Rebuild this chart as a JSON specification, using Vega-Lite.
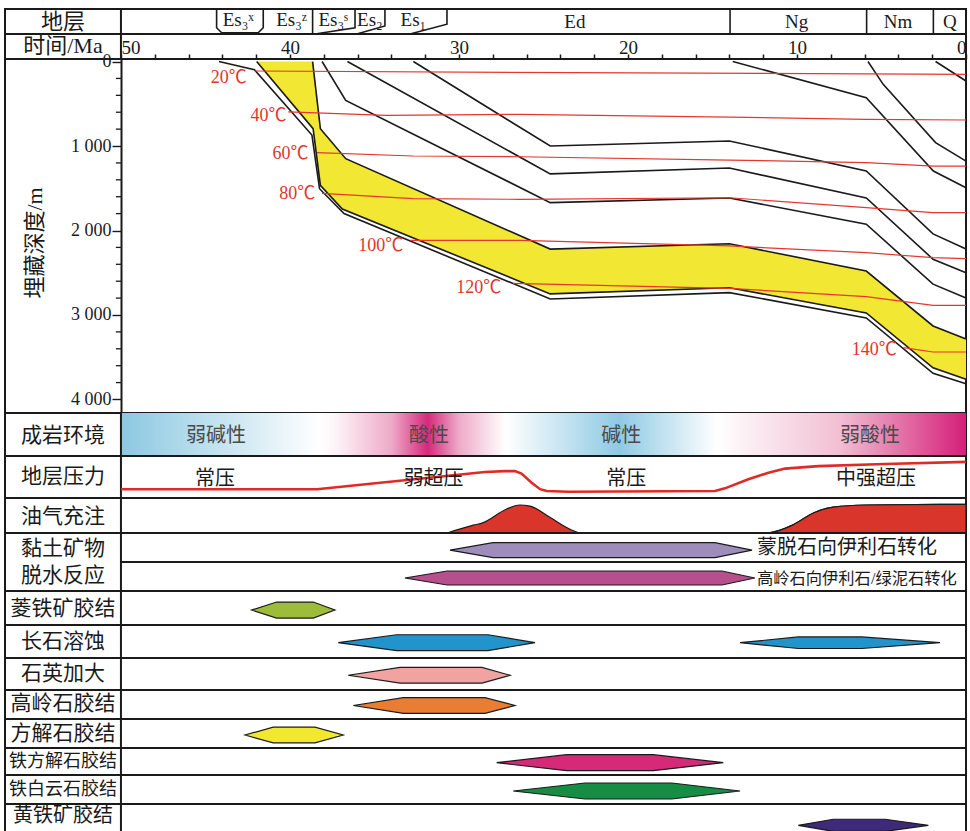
{
"$schema": "https://vega.github.io/schema/vega-lite/v6.json",
"background": "white",
"padding": {"left": 3, "top": 4, "right": 4, "bottom": 0},
"spacing": 0,
"bounds": "flush",
"config": {
  "view": {"stroke": "#1a1a1a", "strokeWidth": 2},
  "font": "Liberation Serif, Noto Sans CJK SC",
  "text": {"font": "Liberation Serif, Noto Sans CJK SC", "baseline": "middle", "align": "center", "color": "#1a1a1a"}
},
"vconcat": [
{
  "width": 961, "height": 50,
  "layer": [
    {"data": {"values": [{"t": 50}]}, "mark": {"type": "rule", "color": "#1a1a1a", "strokeWidth": 2},
     "encoding": {"x": {"field": "t", "type": "quantitative", "scale": {"domain": [56.86, 0], "nice": false, "zero": false}, "axis": null}}},
    {"data": {"values": [{"v": 1}]}, "mark": {"type": "rule", "color": "#1a1a1a", "strokeWidth": 2},
     "encoding": {"y": {"field": "v", "type": "quantitative", "scale": {"domain": [0, 2], "nice": false, "zero": false}, "axis": null}}},
    {"data": {"values": [
      {"seg": "a", "i": 1, "t": 44.34, "v": 2}, {"seg": "a", "i": 2, "t": 44.34, "v": 1.25}, {"seg": "a", "i": 3, "t": 44.04, "v": 1.05}, {"seg": "a", "i": 4, "t": 41.88, "v": 1.05}, {"seg": "a", "i": 5, "t": 41.58, "v": 1.25}, {"seg": "a", "i": 6, "t": 41.58, "v": 2},
      {"seg": "b", "i": 1, "t": 38.66, "v": 1}, {"seg": "b", "i": 2, "t": 38.66, "v": 2},
      {"seg": "c", "i": 1, "t": 38.52, "v": 1}, {"seg": "c", "i": 2, "t": 36.15, "v": 1.25}, {"seg": "c", "i": 3, "t": 36.15, "v": 2},
      {"seg": "d", "i": 1, "t": 36.05, "v": 1}, {"seg": "d", "i": 2, "t": 34.38, "v": 1.32}, {"seg": "d", "i": 3, "t": 34.38, "v": 2},
      {"seg": "e", "i": 1, "t": 32.9, "v": 1}, {"seg": "e", "i": 2, "t": 30.71, "v": 1.39}, {"seg": "e", "i": 3, "t": 30.71, "v": 2},
      {"seg": "f", "i": 1, "t": 13.96, "v": 1}, {"seg": "f", "i": 2, "t": 13.96, "v": 2},
      {"seg": "g", "i": 1, "t": 5.88, "v": 1}, {"seg": "g", "i": 2, "t": 5.88, "v": 2},
      {"seg": "h", "i": 1, "t": 1.93, "v": 1}, {"seg": "h", "i": 2, "t": 1.93, "v": 2}
     ]},
     "mark": {"type": "line", "color": "#1a1a1a", "strokeWidth": 1.6},
     "encoding": {
       "x": {"field": "t", "type": "quantitative", "scale": {"domain": [56.86, 0], "nice": false, "zero": false}, "axis": null},
       "y": {"field": "v", "type": "quantitative", "scale": {"domain": [0, 2], "nice": false, "zero": false}, "axis": null},
       "detail": {"field": "seg"}, "order": {"field": "i"}}},
    {"data": {"values": [
      {"t": 43.06, "v": 1.56, "s": "Es₃ˣ"}, {"t": 39.9, "v": 1.56, "s": "Es₃ᶻ"}, {"t": 37.44, "v": 1.56, "s": "Es₃ˢ"},
      {"t": 35.27, "v": 1.56, "s": "Es₂"}, {"t": 32.7, "v": 1.56, "s": "Es₁"}, {"t": 23.14, "v": 1.5, "s": "Ed"},
      {"t": 10.02, "v": 1.5, "s": "Ng"}, {"t": 4.02, "v": 1.5, "s": "Nm"}, {"t": 0.95, "v": 1.5, "s": "Q"}
     ]},
     "mark": {"type": "text", "fontSize": 19},
     "encoding": {
       "x": {"field": "t", "type": "quantitative", "scale": {"domain": [56.86, 0], "nice": false, "zero": false}, "axis": null},
       "y": {"field": "v", "type": "quantitative", "scale": {"domain": [0, 2], "nice": false, "zero": false}, "axis": null},
       "text": {"field": "s"}}},
    {"data": {"values": [{"t": 53.43, "v": 1.5, "s": "地层"}, {"t": 53.43, "v": 0.52, "s": "时间/Ma"}]},
     "mark": {"type": "text", "fontSize": 22},
     "encoding": {
       "x": {"field": "t", "type": "quantitative", "scale": {"domain": [56.86, 0], "nice": false, "zero": false}, "axis": null},
       "y": {"field": "v", "type": "quantitative", "scale": {"domain": [0, 2], "nice": false, "zero": false}, "axis": null},
       "text": {"field": "s"}}}
  ]
},
{
  "width": 961, "height": 354,
  "layer": [
    {"data": {"values": [
      {"t": 41.97, "d": 0, "d2": 0}, {"t": 38.66, "d": 0, "d2": 788}, {"t": 38.63, "d": 52, "d2": 795},
      {"t": 38.2, "d": 795, "d2": 1465}, {"t": 36.9, "d": 1102, "d2": 1745}, {"t": 36.7, "d": 1150, "d2": 1761},
      {"t": 24.6, "d": 2220, "d2": 2750}, {"t": 14.0, "d": 2156, "d2": 2677}, {"t": 5.9, "d": 2480, "d2": 2976},
      {"t": 1.95, "d": 3130, "d2": 3625}, {"t": 0, "d": 3285, "d2": 3760}
     ]},
     "mark": {"type": "area", "color": "#f2e733", "opacity": 1},
     "encoding": {
       "x": {"field": "t", "type": "quantitative", "scale": {"domain": [56.86, 0], "nice": false, "zero": false},
         "axis": {"orient": "top", "title": null, "values": [50,48,46,44,42,40,38,36,34,32,30,28,26,24,22,20,18,16,14,12,10,8,6,4,2,0],
           "tickCount": 40, "tickSize": 5, "tickWidth": 1.5, "tickColor": "#1a1a1a", "domain": false, "grid": false,
           "labelExpr": "datum.value % 10 === 0 ? format(datum.value, 'd') : ''",
           "labelFont": "Liberation Serif", "labelFontSize": 19, "labelColor": "#1a1a1a", "labelPadding": 1,
           "labelBaseline": "alphabetic", "labelFlush": false, "labelOverlap": false,
           "labelAlign": {"expr": "datum.value === 50 ? 'left' : (datum.value === 0 ? 'right' : 'center')"}}},
       "y": {"field": "d", "type": "quantitative", "scale": {"domain": [-30, 4160], "reverse": true, "nice": false, "zero": false},
         "axis": {"orient": "left", "offset": -116, "title": null, "values": [0, 1000, 2000, 3000, 4000], "tickCount": 10,
           "tickSize": 9, "tickWidth": 1.4, "tickColor": "#1a1a1a", "domain": true, "domainColor": "#1a1a1a", "domainWidth": 2, "grid": false,
           "labelExpr": "datum.value === 0 ? '0' : replace(format(datum.value, ','), ',', ' ')",
           "labelFont": "Liberation Serif", "labelFontSize": 18, "labelColor": "#1a1a1a", "labelPadding": 1,
           "labelBaseline": "middle", "labelOverlap": false, "labelFlush": false}},
       "y2": {"field": "d2"}}},
    {"data": {"values": [
      {"d": 200}, {"d": 400}, {"d": 600}, {"d": 800}, {"d": 1200}, {"d": 1400}, {"d": 1600}, {"d": 1800},
      {"d": 2200}, {"d": 2400}, {"d": 2600}, {"d": 2800}, {"d": 3200}, {"d": 3400}, {"d": 3600}, {"d": 3800}]},
     "mark": {"type": "rule", "color": "#1a1a1a", "strokeWidth": 1.3},
     "encoding": {
       "x": {"datum": 50.3, "type": "quantitative"},
       "x2": {"datum": 50},
       "y": {"field": "d", "type": "quantitative"}}},
    {"data": {"values": [
      {"h": "G", "i": 1, "t": 1.8, "d": 0}, {"h": "G", "i": 2, "t": 0, "d": 230},
      {"h": "F", "i": 1, "t": 5.8, "d": 0}, {"h": "F", "i": 2, "t": 4.9, "d": 270}, {"h": "F", "i": 3, "t": 1.8, "d": 960}, {"h": "F", "i": 4, "t": 0, "d": 1178},
      {"h": "E", "i": 1, "t": 13.8, "d": 0}, {"h": "E", "i": 2, "t": 5.9, "d": 428}, {"h": "E", "i": 3, "t": 1.93, "d": 1296}, {"h": "E", "i": 4, "t": 0, "d": 1493},
      {"h": "D", "i": 1, "t": 32.7, "d": 0}, {"h": "D", "i": 2, "t": 24.6, "d": 1000}, {"h": "D", "i": 3, "t": 14.0, "d": 940}, {"h": "D", "i": 4, "t": 5.9, "d": 1295}, {"h": "D", "i": 5, "t": 1.95, "d": 2040}, {"h": "D", "i": 6, "t": 0, "d": 2220},
      {"h": "C", "i": 1, "t": 36.6, "d": 0}, {"h": "C", "i": 2, "t": 24.6, "d": 1330}, {"h": "C", "i": 3, "t": 14.0, "d": 1260}, {"h": "C", "i": 4, "t": 5.9, "d": 1615}, {"h": "C", "i": 5, "t": 1.95, "d": 2340}, {"h": "C", "i": 6, "t": 0, "d": 2500},
      {"h": "B", "i": 1, "t": 38.1, "d": 0}, {"h": "B", "i": 2, "t": 36.7, "d": 460}, {"h": "B", "i": 3, "t": 24.6, "d": 1670}, {"h": "B", "i": 4, "t": 14.0, "d": 1615}, {"h": "B", "i": 5, "t": 5.9, "d": 1925}, {"h": "B", "i": 6, "t": 1.95, "d": 2635}, {"h": "B", "i": 7, "t": 0, "d": 2800},
      {"h": "T", "i": 1, "t": 38.66, "d": 0}, {"h": "T", "i": 2, "t": 38.2, "d": 795}, {"h": "T", "i": 3, "t": 36.7, "d": 1150}, {"h": "T", "i": 4, "t": 24.6, "d": 2220}, {"h": "T", "i": 5, "t": 14.0, "d": 2156}, {"h": "T", "i": 6, "t": 5.9, "d": 2480}, {"h": "T", "i": 7, "t": 1.95, "d": 3130}, {"h": "T", "i": 8, "t": 0, "d": 3285},
      {"h": "U", "i": 1, "t": 41.97, "d": 0}, {"h": "U", "i": 2, "t": 38.63, "d": 795}, {"h": "U", "i": 3, "t": 38.2, "d": 1465}, {"h": "U", "i": 4, "t": 36.9, "d": 1745}, {"h": "U", "i": 5, "t": 24.6, "d": 2750}, {"h": "U", "i": 6, "t": 14.0, "d": 2677}, {"h": "U", "i": 7, "t": 5.9, "d": 2976}, {"h": "U", "i": 8, "t": 1.95, "d": 3625}, {"h": "U", "i": 9, "t": 0, "d": 3760},
      {"h": "V", "i": 1, "t": 44.2, "d": 0}, {"h": "V", "i": 2, "t": 42.1, "d": 97}, {"h": "V", "i": 3, "t": 38.7, "d": 870}, {"h": "V", "i": 4, "t": 38.25, "d": 1505}, {"h": "V", "i": 5, "t": 36.8, "d": 1800}, {"h": "V", "i": 6, "t": 24.6, "d": 2810}, {"h": "V", "i": 7, "t": 14.0, "d": 2735}, {"h": "V", "i": 8, "t": 5.9, "d": 3035}, {"h": "V", "i": 9, "t": 1.95, "d": 3690}, {"h": "V", "i": 10, "t": 0, "d": 3815}
     ]},
     "mark": {"type": "line", "color": "#1a1a1a", "strokeWidth": 1.6},
     "encoding": {
       "x": {"field": "t", "type": "quantitative"},
       "y": {"field": "d", "type": "quantitative"},
       "detail": {"field": "h"}, "order": {"field": "i"}}},
    {"data": {"values": [
      {"T": 20, "i": 1, "t": 42.1, "d": 112}, {"T": 20, "i": 2, "t": 23.4, "d": 132}, {"T": 20, "i": 3, "t": 0, "d": 151},
      {"T": 40, "i": 1, "t": 40.1, "d": 597}, {"T": 40, "i": 2, "t": 34.3, "d": 637}, {"T": 40, "i": 3, "t": 26.4, "d": 625}, {"T": 40, "i": 4, "t": 14.0, "d": 657}, {"T": 40, "i": 5, "t": 5.9, "d": 684}, {"T": 40, "i": 6, "t": 0, "d": 692},
      {"T": 60, "i": 1, "t": 38.4, "d": 1079}, {"T": 60, "i": 2, "t": 32.7, "d": 1118}, {"T": 60, "i": 3, "t": 26.4, "d": 1127}, {"T": 60, "i": 4, "t": 14.0, "d": 1166}, {"T": 60, "i": 5, "t": 5.9, "d": 1197}, {"T": 60, "i": 6, "t": 1.95, "d": 1237}, {"T": 60, "i": 7, "t": 0, "d": 1237},
      {"T": 80, "i": 1, "t": 38.1, "d": 1560}, {"T": 80, "i": 2, "t": 32.7, "d": 1623}, {"T": 80, "i": 3, "t": 26.4, "d": 1631}, {"T": 80, "i": 4, "t": 14.0, "d": 1612}, {"T": 80, "i": 5, "t": 5.9, "d": 1730}, {"T": 80, "i": 6, "t": 1.95, "d": 1789}, {"T": 80, "i": 7, "t": 0, "d": 1789},
      {"T": 100, "i": 1, "t": 32.9, "d": 2116}, {"T": 100, "i": 2, "t": 26.4, "d": 2116}, {"T": 100, "i": 3, "t": 14.0, "d": 2183}, {"T": 100, "i": 4, "t": 5.9, "d": 2262}, {"T": 100, "i": 5, "t": 1.95, "d": 2322}, {"T": 100, "i": 6, "t": 0, "d": 2333},
      {"T": 120, "i": 1, "t": 26.8, "d": 2625}, {"T": 120, "i": 2, "t": 14.0, "d": 2684}, {"T": 120, "i": 3, "t": 5.9, "d": 2783}, {"T": 120, "i": 4, "t": 1.95, "d": 2885}, {"T": 120, "i": 5, "t": 0, "d": 2885},
      {"T": 140, "i": 1, "t": 3.7, "d": 3387}, {"T": 140, "i": 2, "t": 1.95, "d": 3438}, {"T": 140, "i": 3, "t": 0, "d": 3438}
     ]},
     "mark": {"type": "line", "color": "#e6372f", "strokeWidth": 1.2},
     "encoding": {
       "x": {"field": "t", "type": "quantitative"},
       "y": {"field": "d", "type": "quantitative"},
       "detail": {"field": "T"}, "order": {"field": "i"}}},
    {"data": {"values": [
      {"t": 42.55, "d": 190, "s": "20℃"}, {"t": 40.2, "d": 640, "s": "40℃"}, {"t": 38.9, "d": 1089, "s": "60℃"},
      {"t": 38.5, "d": 1562, "s": "80℃"}, {"t": 33.3, "d": 2189, "s": "100℃"}, {"t": 27.5, "d": 2675, "s": "120℃"}, {"t": 4.1, "d": 3420, "s": "140℃"}
     ]},
     "mark": {"type": "text", "fontSize": 18, "align": "right", "color": "#e0352d"},
     "encoding": {
       "x": {"field": "t", "type": "quantitative"},
       "y": {"field": "d", "type": "quantitative"},
       "text": {"field": "s"}}},
    {"data": {"values": [{"t": 55.08, "d": 2148, "s": "埋藏深度/m"}]},
     "mark": {"type": "text", "fontSize": 22, "angle": 270},
     "encoding": {
       "x": {"field": "t", "type": "quantitative"},
       "y": {"field": "d", "type": "quantitative"},
       "text": {"field": "s"}}}
  ]
},
{
  "width": 961, "height": 43,
  "layer": [
    {"data": {"values": [{"t": 50, "t2": 0}]},
     "mark": {"type": "rect", "color": {"gradient": "linear", "x1": 0, "x2": 1, "y1": 0, "y2": 0, "stops": [
       {"offset": 0, "color": "#8cc8e2"}, {"offset": 0.235, "color": "#ffffff"}, {"offset": 0.255, "color": "#fdf3f7"},
       {"offset": 0.32, "color": "#eeaac8"}, {"offset": 0.363, "color": "#d42a7c"}, {"offset": 0.40, "color": "#eeaac8"},
       {"offset": 0.455, "color": "#ffffff"}, {"offset": 0.59, "color": "#8ecae3"}, {"offset": 0.705, "color": "#ffffff"},
       {"offset": 0.85, "color": "#f2bfd3"}, {"offset": 1, "color": "#d42079"}]}},
     "encoding": {
       "x": {"field": "t", "type": "quantitative", "scale": {"domain": [56.86, 0], "nice": false, "zero": false}, "axis": null},
       "x2": {"field": "t2"}}},
    {"data": {"values": [{"t": 50}]}, "mark": {"type": "rule", "color": "#1a1a1a", "strokeWidth": 2},
     "encoding": {"x": {"field": "t", "type": "quantitative", "scale": {"domain": [56.86, 0], "nice": false, "zero": false}, "axis": null}}},
    {"data": {"values": [
      {"t": 44.38, "v": 0.465, "s": "弱碱性"}, {"t": 31.78, "v": 0.465, "s": "酸性"}, {"t": 20.4, "v": 0.465, "s": "碱性"}, {"t": 5.68, "v": 0.465, "s": "弱酸性"}]},
     "mark": {"type": "text", "fontSize": 20, "color": "#4a4a4a"},
     "encoding": {
       "x": {"field": "t", "type": "quantitative", "scale": {"domain": [56.86, 0], "nice": false, "zero": false}, "axis": null},
       "y": {"field": "v", "type": "quantitative", "scale": {"domain": [0, 1], "nice": false, "zero": false}, "axis": null},
       "text": {"field": "s"}}},
    {"data": {"values": [{"t": 53.43, "v": 0.465, "s": "成岩环境"}]},
     "mark": {"type": "text", "fontSize": 21},
     "encoding": {
       "x": {"field": "t", "type": "quantitative", "scale": {"domain": [56.86, 0], "nice": false, "zero": false}, "axis": null},
       "y": {"field": "v", "type": "quantitative", "scale": {"domain": [0, 1], "nice": false, "zero": false}, "axis": null},
       "text": {"field": "s"}}}
  ]
},
{
  "width": 961, "height": 42,
  "layer": [
    {"data": {"values": [{"t": 50}]}, "mark": {"type": "rule", "color": "#1a1a1a", "strokeWidth": 2},
     "encoding": {"x": {"field": "t", "type": "quantitative", "scale": {"domain": [56.86, 0], "nice": false, "zero": false}, "axis": null}}},
    {"data": {"values": [
      {"t": 50, "v": 0.207}, {"t": 38.4, "v": 0.207}, {"t": 28.46, "v": 0.62}, {"t": 27.28, "v": 0.64}, {"t": 26.69, "v": 0.64},
      {"t": 26.3, "v": 0.58}, {"t": 25.7, "v": 0.365}, {"t": 25.2, "v": 0.21}, {"t": 24.81, "v": 0.167}, {"t": 23.53, "v": 0.15},
      {"t": 14.85, "v": 0.167}, {"t": 14.26, "v": 0.23}, {"t": 12.88, "v": 0.445}, {"t": 11.69, "v": 0.6}, {"t": 10.71, "v": 0.7},
      {"t": 8.74, "v": 0.76}, {"t": 4.79, "v": 0.81}, {"t": 0, "v": 0.86}]},
     "mark": {"type": "line", "color": "#e02a26", "strokeWidth": 2.6},
     "encoding": {
       "x": {"field": "t", "type": "quantitative", "scale": {"domain": [56.86, 0], "nice": false, "zero": false}, "axis": null},
       "y": {"field": "v", "type": "quantitative", "scale": {"domain": [0, 1], "nice": false, "zero": false}, "axis": null}}},
    {"data": {"values": [
      {"t": 44.44, "v": 0.452, "s": "常压"}, {"t": 31.5, "v": 0.452, "s": "弱超压"}, {"t": 20.1, "v": 0.452, "s": "常压"}, {"t": 5.33, "v": 0.452, "s": "中强超压"}]},
     "mark": {"type": "text", "fontSize": 20},
     "encoding": {
       "x": {"field": "t", "type": "quantitative", "scale": {"domain": [56.86, 0], "nice": false, "zero": false}, "axis": null},
       "y": {"field": "v", "type": "quantitative", "scale": {"domain": [0, 1], "nice": false, "zero": false}, "axis": null},
       "text": {"field": "s"}}},
    {"data": {"values": [{"t": 53.43, "v": 0.5, "s": "地层压力"}]},
     "mark": {"type": "text", "fontSize": 21},
     "encoding": {
       "x": {"field": "t", "type": "quantitative", "scale": {"domain": [56.86, 0], "nice": false, "zero": false}, "axis": null},
       "y": {"field": "v", "type": "quantitative", "scale": {"domain": [0, 1], "nice": false, "zero": false}, "axis": null},
       "text": {"field": "s"}}}
  ]
},
{
  "width": 961, "height": 35,
  "layer": [
    {"data": {"values": [
      {"g": "a", "t": 30.7, "v": 0}, {"g": "a", "t": 29.1, "v": 0.23}, {"g": "a", "t": 28.6, "v": 0.29}, {"g": "a", "t": 27.2, "v": 0.68},
      {"g": "a", "t": 26.4, "v": 0.8}, {"g": "a", "t": 25.8, "v": 0.77}, {"g": "a", "t": 24.6, "v": 0.44}, {"g": "a", "t": 23.4, "v": 0.1}, {"g": "a", "t": 22.8, "v": 0},
      {"g": "b", "t": 11.8, "v": 0}, {"g": "b", "t": 10.2, "v": 0.24}, {"g": "b", "t": 9.0, "v": 0.58}, {"g": "b", "t": 7.85, "v": 0.74},
      {"g": "b", "t": 5.9, "v": 0.8}, {"g": "b", "t": 1.5, "v": 0.82}, {"g": "b", "t": 0, "v": 0.82}]},
     "mark": {"type": "area", "color": "#d9352b", "stroke": "#1a1a1a", "strokeWidth": 1.2, "interpolate": "monotone", "opacity": 1},
     "encoding": {
       "x": {"field": "t", "type": "quantitative", "scale": {"domain": [56.86, 0], "nice": false, "zero": false}, "axis": null},
       "y": {"field": "v", "type": "quantitative", "scale": {"domain": [0, 1], "nice": false, "zero": false}, "axis": null},
       "detail": {"field": "g"}}},
    {"data": {"values": [{"t": 50}]}, "mark": {"type": "rule", "color": "#1a1a1a", "strokeWidth": 2},
     "encoding": {"x": {"field": "t", "type": "quantitative", "scale": {"domain": [56.86, 0], "nice": false, "zero": false}, "axis": null}}},
    {"data": {"values": [{"t": 53.43, "v": 0.457, "s": "油气充注"}]},
     "mark": {"type": "text", "fontSize": 21},
     "encoding": {
       "x": {"field": "t", "type": "quantitative", "scale": {"domain": [56.86, 0], "nice": false, "zero": false}, "axis": null},
       "y": {"field": "v", "type": "quantitative", "scale": {"domain": [0, 1], "nice": false, "zero": false}, "axis": null},
       "text": {"field": "s"}}}
  ]
},
{
  "width": 961, "height": 58,
  "layer": [
    {"data": {"values": [{"t": 50, "t2": 0, "v": 1}]}, "mark": {"type": "rule", "color": "#1a1a1a", "strokeWidth": 2},
     "encoding": {
       "x": {"field": "t", "type": "quantitative", "scale": {"domain": [56.86, 0], "nice": false, "zero": false}, "axis": null},
       "x2": {"field": "t2"},
       "y": {"field": "v", "type": "quantitative", "scale": {"domain": [0, 2], "nice": false, "zero": false}, "axis": null}}},
    {"data": {"values": [{"t": 50}]}, "mark": {"type": "rule", "color": "#1a1a1a", "strokeWidth": 2},
     "encoding": {"x": {"field": "t", "type": "quantitative", "scale": {"domain": [56.86, 0], "nice": false, "zero": false}, "axis": null}}},
    {"data": {"values": [
      {"b": "p", "col": "#9e8dbb", "t": 30.53, "lo": 1.407, "hi": 1.407}, {"b": "p", "col": "#9e8dbb", "t": 27.99, "lo": 1.148, "hi": 1.666},
      {"b": "p", "col": "#9e8dbb", "t": 14.85, "lo": 1.148, "hi": 1.666}, {"b": "p", "col": "#9e8dbb", "t": 12.66, "lo": 1.407, "hi": 1.407},
      {"b": "m", "col": "#b64f8b", "t": 33.2, "lo": 0.448, "hi": 0.448}, {"b": "m", "col": "#b64f8b", "t": 30.7, "lo": 0.207, "hi": 0.69},
      {"b": "m", "col": "#b64f8b", "t": 14.44, "lo": 0.207, "hi": 0.69}, {"b": "m", "col": "#b64f8b", "t": 12.49, "lo": 0.448, "hi": 0.448}]},
     "mark": {"type": "area", "stroke": "#1a1a1a", "strokeWidth": 1.2, "opacity": 1},
     "encoding": {
       "x": {"field": "t", "type": "quantitative", "scale": {"domain": [56.86, 0], "nice": false, "zero": false}, "axis": null},
       "y": {"field": "lo", "type": "quantitative", "scale": {"domain": [0, 2], "nice": false, "zero": false}, "axis": null},
       "y2": {"field": "hi"},
       "detail": {"field": "b"},
       "color": {"field": "col", "type": "nominal", "scale": null}}},
    {"data": {"values": [{"t": 12.37, "v": 1.48, "s": "蒙脱石向伊利石转化"}]},
     "mark": {"type": "text", "fontSize": 20, "align": "left"},
     "encoding": {
       "x": {"field": "t", "type": "quantitative", "scale": {"domain": [56.86, 0], "nice": false, "zero": false}, "axis": null},
       "y": {"field": "v", "type": "quantitative", "scale": {"domain": [0, 2], "nice": false, "zero": false}, "axis": null},
       "text": {"field": "s"}}},
    {"data": {"values": [{"t": 12.37, "v": 0.41, "s": "高岭石向伊利石/绿泥石转化"}]},
     "mark": {"type": "text", "fontSize": 16.3, "align": "left"},
     "encoding": {
       "x": {"field": "t", "type": "quantitative", "scale": {"domain": [56.86, 0], "nice": false, "zero": false}, "axis": null},
       "y": {"field": "v", "type": "quantitative", "scale": {"domain": [0, 2], "nice": false, "zero": false}, "axis": null},
       "text": {"field": "s"}}},
    {"data": {"values": [{"t": 53.43, "v": 1.45, "s": "黏土矿物"}, {"t": 53.43, "v": 0.52, "s": "脱水反应"}]},
     "mark": {"type": "text", "fontSize": 21},
     "encoding": {
       "x": {"field": "t", "type": "quantitative", "scale": {"domain": [56.86, 0], "nice": false, "zero": false}, "axis": null},
       "y": {"field": "v", "type": "quantitative", "scale": {"domain": [0, 2], "nice": false, "zero": false}, "axis": null},
       "text": {"field": "s"}}}
  ]
},
{
  "width": 961, "height": 34,
  "layer": [
    {"data": {"values": [{"t": 50}]}, "mark": {"type": "rule", "color": "#1a1a1a", "strokeWidth": 2},
     "encoding": {"x": {"field": "t", "type": "quantitative", "scale": {"domain": [56.86, 0], "nice": false, "zero": false}, "axis": null}}},
    {"data": {"values": [
      {"b": "s", "col": "#9cbc3a", "t": 42.27, "lo": 0.44, "hi": 0.44}, {"b": "s", "col": "#9cbc3a", "t": 40.79, "lo": 0.205, "hi": 0.675},
      {"b": "s", "col": "#9cbc3a", "t": 38.62, "lo": 0.205, "hi": 0.675}, {"b": "s", "col": "#9cbc3a", "t": 37.34, "lo": 0.44, "hi": 0.44}]},
     "mark": {"type": "area", "stroke": "#1a1a1a", "strokeWidth": 1.2, "opacity": 1},
     "encoding": {
       "x": {"field": "t", "type": "quantitative", "scale": {"domain": [56.86, 0], "nice": false, "zero": false}, "axis": null},
       "y": {"field": "lo", "type": "quantitative", "scale": {"domain": [0, 1], "nice": false, "zero": false}, "axis": null},
       "y2": {"field": "hi"}, "detail": {"field": "b"},
       "color": {"field": "col", "type": "nominal", "scale": null}}},
    {"data": {"values": [{"t": 53.43, "v": 0.47, "s": "菱铁矿胶结"}]},
     "mark": {"type": "text", "fontSize": 21},
     "encoding": {
       "x": {"field": "t", "type": "quantitative", "scale": {"domain": [56.86, 0], "nice": false, "zero": false}, "axis": null},
       "y": {"field": "v", "type": "quantitative", "scale": {"domain": [0, 1], "nice": false, "zero": false}, "axis": null},
       "text": {"field": "s"}}}
  ]
},
{
  "width": 961, "height": 33,
  "layer": [
    {"data": {"values": [{"t": 50}]}, "mark": {"type": "rule", "color": "#1a1a1a", "strokeWidth": 2},
     "encoding": {"x": {"field": "t", "type": "quantitative", "scale": {"domain": [56.86, 0], "nice": false, "zero": false}, "axis": null}}},
    {"data": {"values": [
      {"b": "a", "col": "#2194cc", "t": 37.14, "lo": 0.464, "hi": 0.464}, {"b": "a", "col": "#2194cc", "t": 33.69, "lo": 0.224, "hi": 0.704},
      {"b": "a", "col": "#2194cc", "t": 28.28, "lo": 0.224, "hi": 0.704}, {"b": "a", "col": "#2194cc", "t": 25.5, "lo": 0.464, "hi": 0.464},
      {"b": "b", "col": "#2194cc", "t": 13.37, "lo": 0.464, "hi": 0.464}, {"b": "b", "col": "#2194cc", "t": 9.92, "lo": 0.288, "hi": 0.64},
      {"b": "b", "col": "#2194cc", "t": 6.17, "lo": 0.288, "hi": 0.64}, {"b": "b", "col": "#2194cc", "t": 1.54, "lo": 0.464, "hi": 0.464}]},
     "mark": {"type": "area", "stroke": "#1a1a1a", "strokeWidth": 1.2, "opacity": 1},
     "encoding": {
       "x": {"field": "t", "type": "quantitative", "scale": {"domain": [56.86, 0], "nice": false, "zero": false}, "axis": null},
       "y": {"field": "lo", "type": "quantitative", "scale": {"domain": [0, 1], "nice": false, "zero": false}, "axis": null},
       "y2": {"field": "hi"}, "detail": {"field": "b"},
       "color": {"field": "col", "type": "nominal", "scale": null}}},
    {"data": {"values": [{"t": 53.43, "v": 0.485, "s": "长石溶蚀"}]},
     "mark": {"type": "text", "fontSize": 21},
     "encoding": {
       "x": {"field": "t", "type": "quantitative", "scale": {"domain": [56.86, 0], "nice": false, "zero": false}, "axis": null},
       "y": {"field": "v", "type": "quantitative", "scale": {"domain": [0, 1], "nice": false, "zero": false}, "axis": null},
       "text": {"field": "s"}}}
  ]
},
{
  "width": 961, "height": 32,
  "layer": [
    {"data": {"values": [{"t": 50}]}, "mark": {"type": "rule", "color": "#1a1a1a", "strokeWidth": 2},
     "encoding": {"x": {"field": "t", "type": "quantitative", "scale": {"domain": [56.86, 0], "nice": false, "zero": false}, "axis": null}}},
    {"data": {"values": [
      {"b": "q", "col": "#f0a3a1", "t": 36.55, "lo": 0.46, "hi": 0.46}, {"b": "q", "col": "#f0a3a1", "t": 33.49, "lo": 0.216, "hi": 0.704},
      {"b": "q", "col": "#f0a3a1", "t": 28.64, "lo": 0.216, "hi": 0.704}, {"b": "q", "col": "#f0a3a1", "t": 26.98, "lo": 0.46, "hi": 0.46}]},
     "mark": {"type": "area", "stroke": "#1a1a1a", "strokeWidth": 1.2, "opacity": 1},
     "encoding": {
       "x": {"field": "t", "type": "quantitative", "scale": {"domain": [56.86, 0], "nice": false, "zero": false}, "axis": null},
       "y": {"field": "lo", "type": "quantitative", "scale": {"domain": [0, 1], "nice": false, "zero": false}, "axis": null},
       "y2": {"field": "hi"}, "detail": {"field": "b"},
       "color": {"field": "col", "type": "nominal", "scale": null}}},
    {"data": {"values": [{"t": 53.43, "v": 0.5, "s": "石英加大"}]},
     "mark": {"type": "text", "fontSize": 21},
     "encoding": {
       "x": {"field": "t", "type": "quantitative", "scale": {"domain": [56.86, 0], "nice": false, "zero": false}, "axis": null},
       "y": {"field": "v", "type": "quantitative", "scale": {"domain": [0, 1], "nice": false, "zero": false}, "axis": null},
       "text": {"field": "s"}}}
  ]
},
{
  "width": 961, "height": 29,
  "layer": [
    {"data": {"values": [{"t": 50}]}, "mark": {"type": "rule", "color": "#1a1a1a", "strokeWidth": 2},
     "encoding": {"x": {"field": "t", "type": "quantitative", "scale": {"domain": [56.86, 0], "nice": false, "zero": false}, "axis": null}}},
    {"data": {"values": [
      {"b": "k", "col": "#e87d33", "t": 36.25, "lo": 0.466, "hi": 0.466}, {"b": "k", "col": "#e87d33", "t": 33.29, "lo": 0.196, "hi": 0.736},
      {"b": "k", "col": "#e87d33", "t": 28.46, "lo": 0.196, "hi": 0.736}, {"b": "k", "col": "#e87d33", "t": 26.69, "lo": 0.466, "hi": 0.466}]},
     "mark": {"type": "area", "stroke": "#1a1a1a", "strokeWidth": 1.2, "opacity": 1},
     "encoding": {
       "x": {"field": "t", "type": "quantitative", "scale": {"domain": [56.86, 0], "nice": false, "zero": false}, "axis": null},
       "y": {"field": "lo", "type": "quantitative", "scale": {"domain": [0, 1], "nice": false, "zero": false}, "axis": null},
       "y2": {"field": "hi"}, "detail": {"field": "b"},
       "color": {"field": "col", "type": "nominal", "scale": null}}},
    {"data": {"values": [{"t": 53.43, "v": 0.517, "s": "高岭石胶结"}]},
     "mark": {"type": "text", "fontSize": 21},
     "encoding": {
       "x": {"field": "t", "type": "quantitative", "scale": {"domain": [56.86, 0], "nice": false, "zero": false}, "axis": null},
       "y": {"field": "v", "type": "quantitative", "scale": {"domain": [0, 1], "nice": false, "zero": false}, "axis": null},
       "text": {"field": "s"}}}
  ]
},
{
  "width": 961, "height": 29,
  "layer": [
    {"data": {"values": [{"t": 50}]}, "mark": {"type": "rule", "color": "#1a1a1a", "strokeWidth": 2},
     "encoding": {"x": {"field": "t", "type": "quantitative", "scale": {"domain": [56.86, 0], "nice": false, "zero": false}, "axis": null}}},
    {"data": {"values": [
      {"b": "c", "col": "#f2e830", "t": 42.66, "lo": 0.448, "hi": 0.448}, {"b": "c", "col": "#f2e830", "t": 40.99, "lo": 0.178, "hi": 0.718},
      {"b": "c", "col": "#f2e830", "t": 38.52, "lo": 0.178, "hi": 0.718}, {"b": "c", "col": "#f2e830", "t": 36.85, "lo": 0.448, "hi": 0.448}]},
     "mark": {"type": "area", "stroke": "#1a1a1a", "strokeWidth": 1.2, "opacity": 1},
     "encoding": {
       "x": {"field": "t", "type": "quantitative", "scale": {"domain": [56.86, 0], "nice": false, "zero": false}, "axis": null},
       "y": {"field": "lo", "type": "quantitative", "scale": {"domain": [0, 1], "nice": false, "zero": false}, "axis": null},
       "y2": {"field": "hi"}, "detail": {"field": "b"},
       "color": {"field": "col", "type": "nominal", "scale": null}}},
    {"data": {"values": [{"t": 53.43, "v": 0.483, "s": "方解石胶结"}]},
     "mark": {"type": "text", "fontSize": 21},
     "encoding": {
       "x": {"field": "t", "type": "quantitative", "scale": {"domain": [56.86, 0], "nice": false, "zero": false}, "axis": null},
       "y": {"field": "v", "type": "quantitative", "scale": {"domain": [0, 1], "nice": false, "zero": false}, "axis": null},
       "text": {"field": "s"}}}
  ]
},
{
  "width": 961, "height": 27,
  "layer": [
    {"data": {"values": [{"t": 50}]}, "mark": {"type": "rule", "color": "#1a1a1a", "strokeWidth": 2},
     "encoding": {"x": {"field": "t", "type": "quantitative", "scale": {"domain": [56.86, 0], "nice": false, "zero": false}, "axis": null}}},
    {"data": {"values": [
      {"b": "f", "col": "#d62a79", "t": 27.77, "lo": 0.456, "hi": 0.456}, {"b": "f", "col": "#d62a79", "t": 23.63, "lo": 0.16, "hi": 0.752},
      {"b": "f", "col": "#d62a79", "t": 18.5, "lo": 0.16, "hi": 0.752}, {"b": "f", "col": "#d62a79", "t": 14.36, "lo": 0.456, "hi": 0.456}]},
     "mark": {"type": "area", "stroke": "#1a1a1a", "strokeWidth": 1.2, "opacity": 1},
     "encoding": {
       "x": {"field": "t", "type": "quantitative", "scale": {"domain": [56.86, 0], "nice": false, "zero": false}, "axis": null},
       "y": {"field": "lo", "type": "quantitative", "scale": {"domain": [0, 1], "nice": false, "zero": false}, "axis": null},
       "y2": {"field": "hi"}, "detail": {"field": "b"},
       "color": {"field": "col", "type": "nominal", "scale": null}}},
    {"data": {"values": [{"t": 53.43, "v": 0.48, "s": "铁方解石胶结"}]},
     "mark": {"type": "text", "fontSize": 18},
     "encoding": {
       "x": {"field": "t", "type": "quantitative", "scale": {"domain": [56.86, 0], "nice": false, "zero": false}, "axis": null},
       "y": {"field": "v", "type": "quantitative", "scale": {"domain": [0, 1], "nice": false, "zero": false}, "axis": null},
       "text": {"field": "s"}}}
  ]
},
{
  "width": 961, "height": 29,
  "layer": [
    {"data": {"values": [{"t": 50}]}, "mark": {"type": "rule", "color": "#1a1a1a", "strokeWidth": 2},
     "encoding": {"x": {"field": "t", "type": "quantitative", "scale": {"domain": [56.86, 0], "nice": false, "zero": false}, "axis": null}}},
    {"data": {"values": [
      {"b": "a", "col": "#178c45", "t": 26.79, "lo": 0.448, "hi": 0.448}, {"b": "a", "col": "#178c45", "t": 22.54, "lo": 0.172, "hi": 0.724},
      {"b": "a", "col": "#178c45", "t": 17.41, "lo": 0.172, "hi": 0.724}, {"b": "a", "col": "#178c45", "t": 13.37, "lo": 0.448, "hi": 0.448}]},
     "mark": {"type": "area", "stroke": "#1a1a1a", "strokeWidth": 1.2, "opacity": 1},
     "encoding": {
       "x": {"field": "t", "type": "quantitative", "scale": {"domain": [56.86, 0], "nice": false, "zero": false}, "axis": null},
       "y": {"field": "lo", "type": "quantitative", "scale": {"domain": [0, 1], "nice": false, "zero": false}, "axis": null},
       "y2": {"field": "hi"}, "detail": {"field": "b"},
       "color": {"field": "col", "type": "nominal", "scale": null}}},
    {"data": {"values": [{"t": 53.43, "v": 0.483, "s": "铁白云石胶结"}]},
     "mark": {"type": "text", "fontSize": 18},
     "encoding": {
       "x": {"field": "t", "type": "quantitative", "scale": {"domain": [56.86, 0], "nice": false, "zero": false}, "axis": null},
       "y": {"field": "v", "type": "quantitative", "scale": {"domain": [0, 1], "nice": false, "zero": false}, "axis": null},
       "text": {"field": "s"}}}
  ]
},
{
  "width": 961, "height": 32,
  "layer": [
    {"data": {"values": [{"t": 50}]}, "mark": {"type": "rule", "color": "#1a1a1a", "strokeWidth": 2},
     "encoding": {"x": {"field": "t", "type": "quantitative", "scale": {"domain": [56.86, 0], "nice": false, "zero": false}, "axis": null}}},
    {"data": {"values": [
      {"b": "y", "col": "#3e2a7a", "t": 9.92, "lo": 0.334, "hi": 0.334}, {"b": "y", "col": "#3e2a7a", "t": 7.85, "lo": 0.144, "hi": 0.524},
      {"b": "y", "col": "#3e2a7a", "t": 4.79, "lo": 0.144, "hi": 0.524}, {"b": "y", "col": "#3e2a7a", "t": 2.23, "lo": 0.334, "hi": 0.334}]},
     "mark": {"type": "area", "stroke": "#1a1a1a", "strokeWidth": 1.2, "opacity": 1},
     "encoding": {
       "x": {"field": "t", "type": "quantitative", "scale": {"domain": [56.86, 0], "nice": false, "zero": false}, "axis": null},
       "y": {"field": "lo", "type": "quantitative", "scale": {"domain": [0, 1], "nice": false, "zero": false}, "axis": null},
       "y2": {"field": "hi"}, "detail": {"field": "b"},
       "color": {"field": "col", "type": "nominal", "scale": null}}},
    {"data": {"values": [{"t": 53.43, "v": 0.62, "s": "黄铁矿胶结"}]},
     "mark": {"type": "text", "fontSize": 20},
     "encoding": {
       "x": {"field": "t", "type": "quantitative", "scale": {"domain": [56.86, 0], "nice": false, "zero": false}, "axis": null},
       "y": {"field": "v", "type": "quantitative", "scale": {"domain": [0, 1], "nice": false, "zero": false}, "axis": null},
       "text": {"field": "s"}}}
  ]
}
]
}
